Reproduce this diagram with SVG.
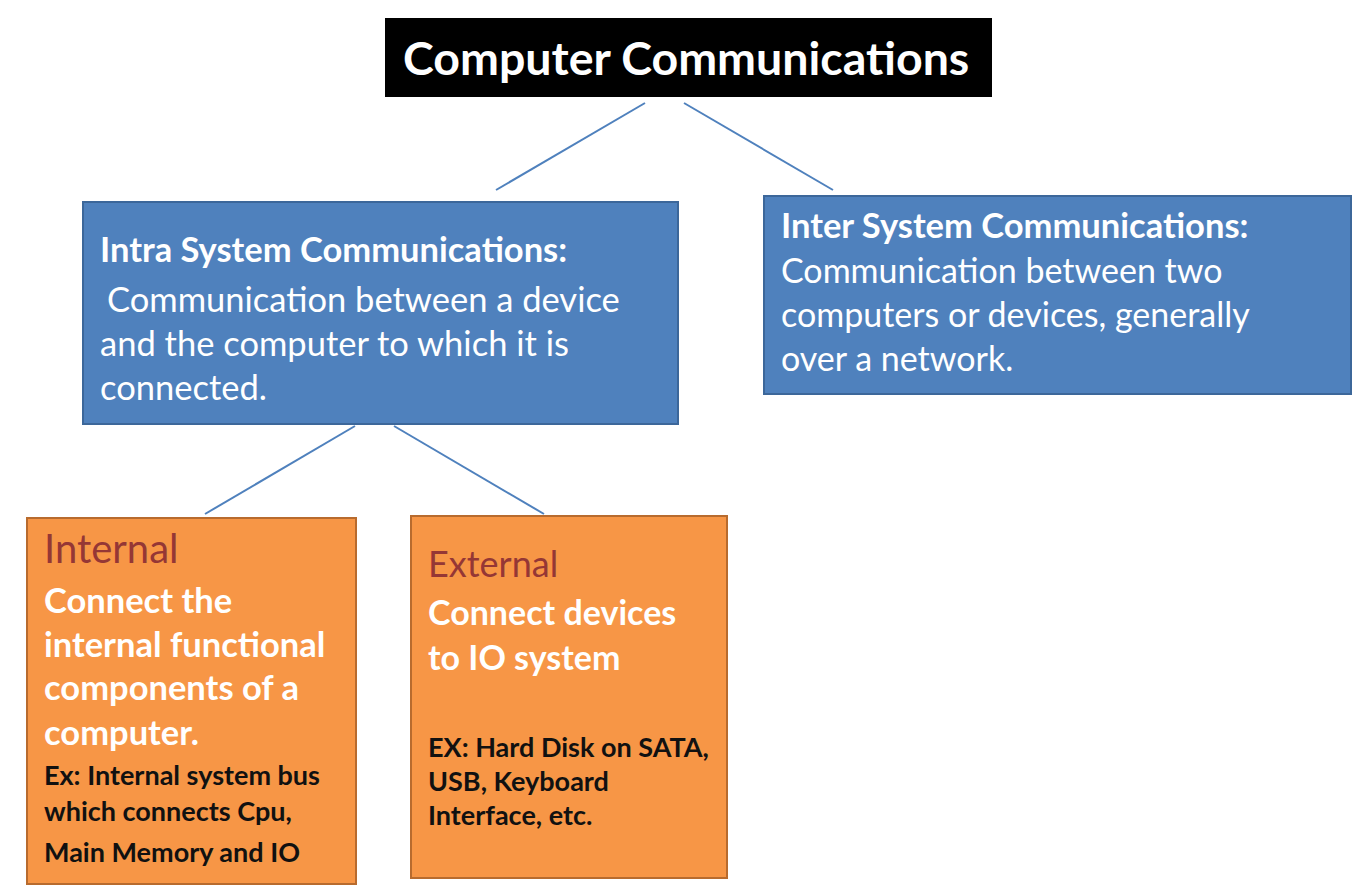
<svg xmlns="http://www.w3.org/2000/svg" width="1372" height="892" viewBox="0 0 1372 892">
<style>
.t{font-family:Lato,"Open Sans","Liberation Sans",sans-serif}
.b{font-weight:bold}
.w{fill:#ffffff}
.k{fill:#111111}
.r{fill:#953735}
.blue{fill:#4f81bd;stroke:#3c679a;stroke-width:2}
.org{fill:#f79646;stroke:#b86b2e;stroke-width:2}
.con line{stroke:#4f81bd;stroke-width:2}
</style>
<rect width="1372" height="892" fill="#ffffff"/>
<g id="connectors" class="con">
<line x1="645" y1="103" x2="496" y2="190"/>
<line x1="684" y1="103" x2="833" y2="190"/>
<line x1="355" y1="426" x2="205" y2="514"/>
<line x1="394" y1="426" x2="544" y2="514"/>
</g>
<g id="title">
<rect x="385" y="18" width="607" height="79" fill="#000000"/>
<text class="t b w" x="403" y="75" font-size="46.5">Computer Communications</text>
</g>
<g id="intra">
<rect class="blue" x="83" y="202" width="595" height="222"/>
<text class="t b w" x="100" y="262" font-size="34.5">Intra System Communications:</text>
<text class="t w" font-size="34.5"><tspan x="107" y="312">Communication between a device</tspan><tspan x="100" y="356">and the computer to which it is</tspan><tspan x="100" y="400">connected.</tspan></text>
</g>
<g id="inter">
<rect class="blue" x="764" y="196" width="587" height="198"/>
<text class="t b w" x="781" y="238" font-size="34.5">Inter System Communications:</text>
<text class="t w" font-size="34"><tspan x="781" y="283">Communication between two</tspan><tspan x="781" y="327">computers or devices, generally</tspan><tspan x="781" y="371">over a network.</tspan></text>
</g>
<g id="internal">
<rect class="org" x="27" y="518" width="329" height="366"/>
<text class="t r" x="44" y="563" font-size="40">Internal</text>
<text class="t b w" font-size="34.5"><tspan x="44" y="613">Connect the</tspan><tspan x="44" y="657">internal functional</tspan><tspan x="44" y="700">components of a</tspan><tspan x="44" y="745">computer.</tspan></text>
<text class="t b k" font-size="27"><tspan x="44" y="785">Ex: Internal system bus</tspan><tspan x="44" y="821">which connects Cpu,</tspan><tspan x="44" y="862">Main Memory and IO</tspan></text>
</g>
<g id="external">
<rect class="org" x="411" y="516" width="316" height="362"/>
<text class="t r" x="428" y="577" font-size="36">External</text>
<text class="t b w" font-size="34"><tspan x="428" y="625">Connect devices</tspan><tspan x="428" y="670">to IO system</tspan></text>
<text class="t b k" font-size="27"><tspan x="428" y="757">EX: Hard Disk on SATA,</tspan><tspan x="428" y="791">USB, Keyboard</tspan><tspan x="428" y="825">Interface, etc.</tspan></text>
</g>
</svg>
